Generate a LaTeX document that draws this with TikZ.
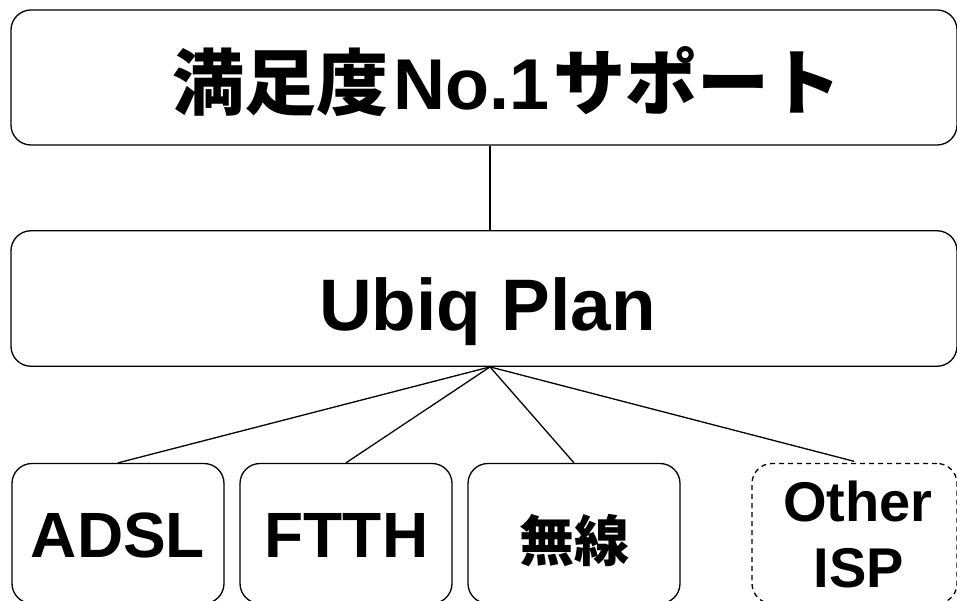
\documentclass[tikz,border=0pt]{standalone}
\usepackage{fontspec}
\setmainfont{Liberation Sans}
\newfontfamily\jp{Noto Sans CJK JP}
\begin{document}
\begin{tikzpicture}[x=1pt,y=-1pt,
  box/.style={draw=black,line width=1.3pt,rounded corners=20pt,inner sep=0pt,
    rectangle,fill=white},
  dashbox/.style={box,dash pattern=on 5pt off 4pt},
  wire/.style={draw=black,line width=1.3pt},
  lbl/.style={inner sep=0pt,anchor=base,font=\bfseries}]
\useasboundingbox (0,0) rectangle (957,601);
% boxes
\node[box,minimum width=946pt,minimum height=135pt] (top) at (484,77.5) {};
\node[box,minimum width=946pt,minimum height=135.5pt] (mid) at (484,298.5) {};
\node[box,minimum width=212pt,minimum height=140pt] (adsl) at (118,533.5) {};
\node[box,minimum width=212pt,minimum height=140pt] (ftth) at (346,533.5) {};
\node[box,minimum width=212pt,minimum height=140pt] (musen) at (574,533.5) {};
\node[dashbox,minimum width=205pt,minimum height=140pt] (other) at (854.5,533.5) {};
% texts
\node[lbl] (toptext) at (507,110) {\fontsize{72}{80}\selectfont{\jp\bfseries 満足度}\kern5pt No.1\kern3pt{\jp\bfseries サポート}};
\node[lbl] (midtext) at (487.5,330) {\fontsize{73}{80}\selectfont Ubiq Plan};
\node[lbl] (adsltext) at (118,557) {\fontsize{64}{70}\selectfont ADSL};
\node[lbl] (ftthtext) at (346.5,557) {\fontsize{64}{70}\selectfont FTTH};
\node[lbl] (musentext) at (574,561) {\fontsize{55}{60}\selectfont\jp\bfseries 無線};
\node[lbl] (othertext1) at (858,521) {\fontsize{56}{66}\selectfont Other};
\node[lbl] (othertext2) at (859,587) {\fontsize{56}{66}\selectfont ISP};
% connectors
\coordinate (hub) at ([xshift=6pt]mid.south);
\draw[wire] ([xshift=6pt]top.south) -- ([xshift=6pt]mid.north);
\draw[wire] (hub) -- (adsl.north);
\draw[wire] (hub) -- (ftth.north);
\draw[wire] (hub) -- (musen.north);
\draw[wire,shorten >=6pt] (hub) -- ([xshift=5.5pt]other.north);
\end{tikzpicture}
\end{document}
